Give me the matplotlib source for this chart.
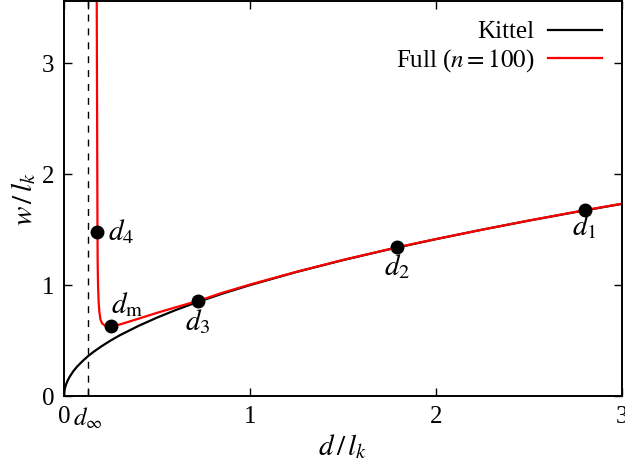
import matplotlib
matplotlib.use('Agg')
import matplotlib.pyplot as plt

plt.rcParams['font.family'] = ['Liberation Serif', 'DejaVu Serif']
plt.rcParams['mathtext.fontset'] = 'stix'
plt.rcParams['font.size'] = 18

# Kittel curve
kittel_d = [0.0, 0.002, 0.005, 0.01, 0.02, 0.03, 0.05, 0.07, 0.1, 0.13, 0.16, 0.2, 0.25,
            0.3, 0.4, 0.5, 0.6, 0.7, 0.85, 1.0, 1.25, 1.5, 1.75, 2.0, 2.25, 2.5, 2.75, 3.0]
kittel_w = [0.0, 0.045, 0.071, 0.10, 0.141, 0.173, 0.224, 0.265, 0.316, 0.361, 0.40, 0.447, 0.50,
            0.548, 0.632, 0.707, 0.775, 0.837, 0.922, 1.0, 1.118, 1.225, 1.323, 1.414, 1.50, 1.581, 1.658, 1.732]

# full model (n = 100)
full_d = [0.176, 0.177, 0.178, 0.179, 0.180, 0.181, 0.183, 0.186, 0.190, 0.196, 0.205, 0.22, 0.252,
          0.30, 0.40, 0.50, 0.60, 0.72, 0.85, 1.0, 1.25, 1.5, 1.79, 2.0, 2.25, 2.5, 2.8, 3.0]
full_w = [3.57, 3.0, 2.5, 2.0, 1.48, 1.2, 1.0, 0.86, 0.76, 0.69, 0.655, 0.635, 0.628,
          0.645, 0.697, 0.75, 0.80, 0.857, 0.93, 1.005, 1.12, 1.227, 1.34, 1.415, 1.50, 1.582, 1.675, 1.733]

# marked points
pt_names = ['$d_1$', '$d_2$', '$d_3$', '$d_\\mathrm{m}$', '$d_4$']
pt_d = [2.80, 1.79, 0.72, 0.252, 0.179]
pt_w = [1.675, 1.34, 0.857, 0.628, 1.48]
pt_offsets = [(0, -12), (0, -14), (0, -15), (0, 16), (8, 0)]

d_inf = 0.129

fig = plt.figure(figsize=(6.25, 4.66), dpi=100)
ax = fig.add_axes([0.1024, 0.150, 0.8928, 0.848])

ax.axvline(d_inf, color='black', lw=1.0, ls=(0, (5, 5)))
ax.plot(kittel_d, kittel_w, color='black', lw=1.6, label='Kittel')
ax.plot(full_d, full_w, color='#ff0000', lw=1.6, label='Full ($n = 100$)')
ax.plot(pt_d, pt_w, 'o', color='black', ms=9, zorder=5)

for name, d, w, off in zip(pt_names, pt_d, pt_w, pt_offsets):
    ha = 'center' if off[0] == 0 and off[1] < 0 else 'left'
    ax.annotate(name, (d, w), xytext=off, textcoords='offset points',
                ha=ha, va='center', fontsize=21)

ax.set_xlim(0, 3)
ax.set_ylim(0, 3.56)
ax.set_xticks([0, d_inf, 1, 2, 3])
ax.set_xticklabels(['0', '$d_\\infty$', '1', '2', '3'])
ax.set_yticks([0, 1, 2, 3])
ax.tick_params(direction='in', length=6, width=1, top=True, right=True, pad=7)
for s in ax.spines.values():
    s.set_linewidth(1.4)

ax.set_xlabel('$d\\,/\\,l_k$', labelpad=1, fontsize=21)
ax.set_ylabel('$w\\,/\\,l_k$', labelpad=3, fontsize=21)

ax.legend(loc='upper right', frameon=False, markerfirst=False, handlelength=2.16,
          handletextpad=0.56, borderaxespad=0.4, labelspacing=0.15, fontsize=18)

plt.savefig('out.png', dpi=100)
